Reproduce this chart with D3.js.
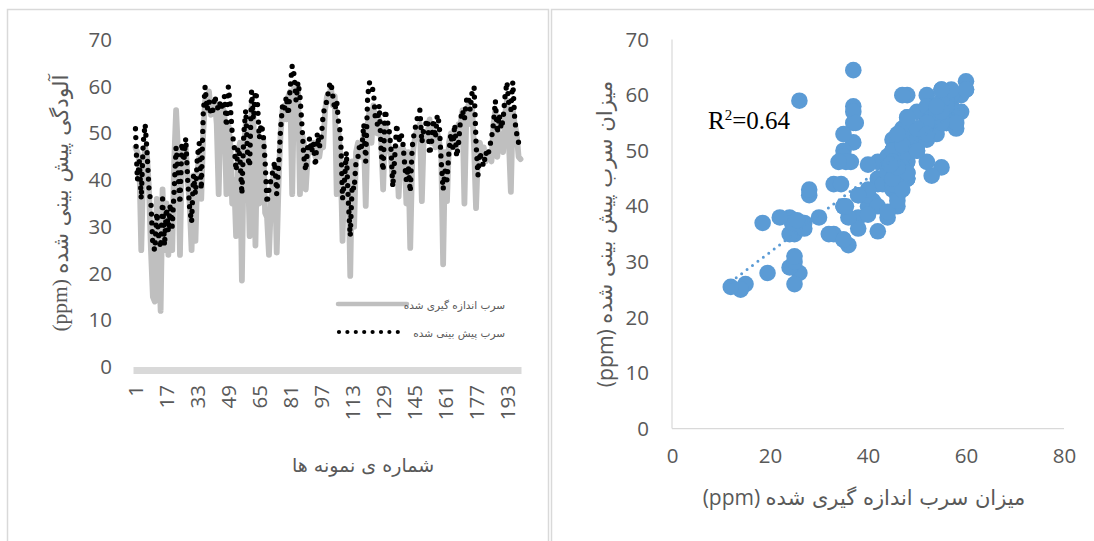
<!DOCTYPE html>
<html>
<head>
<meta charset="utf-8">
<script src="https://cdn.jsdelivr.net/npm/d3@7/dist/d3.min.js"></script>
<style>
  body { margin: 0; background: #fff; }
  svg { display: block; }
</style>
</head>
<body>
<svg id="chart" width="1094" height="541"></svg>
<script>
// Measured lead (ppm) for each sample
const measured = [
  47, 46, 44, 25, 42, 47, 45, 38, 25, 15,
  14, 36, 26, 12, 38, 25, 35, 24, 33, 25,
  44, 55, 46, 24, 46, 42, 47, 40, 35, 25,
  41, 27, 42, 45, 36, 50, 57, 55, 59, 54,
  56, 57, 52, 37, 55, 56, 54, 37, 52, 48,
  35, 40, 28, 46, 48, 18.5, 47, 52, 46, 28,
  56, 54, 26, 50, 35, 45, 49, 33, 32, 24,
  35, 40, 43, 24.5, 40, 50, 55, 56, 53, 58,
  59, 37, 60, 58, 60, 37, 50, 48, 38, 45,
  47, 46, 48, 45, 47, 45, 48, 47, 55, 58,
  57, 60, 56, 58, 37, 50, 45, 27, 42, 44,
  42, 19.5, 44, 30, 46, 48, 45, 46, 50, 34.5,
  52, 55, 48, 56, 52, 50, 53, 48, 38, 52,
  50, 47, 45, 40, 46, 47, 36.5, 45, 47, 46,
  35, 46, 25.5, 44, 48, 50, 51, 52, 35.5, 50,
  49, 50, 53, 48, 51, 47, 50, 48, 46, 22,
  46, 35.5, 48, 50, 47, 50, 47, 52, 52, 55,
  35, 54, 56, 52, 55, 47, 34, 46, 48, 45,
  47, 44, 45, 46, 44, 52, 55, 45, 50, 47,
  46, 54, 57, 48, 37.5, 55, 52, 50, 45, 44.5
];

// Predicted lead (ppm) for the same samples
const predicted = [
  51, 40, 44, 36, 48, 52, 46, 38, 35, 26,
  25, 33, 28, 25.5, 36, 26, 34, 29, 35, 30,
  38, 47, 42, 35, 48, 44, 49, 40, 34, 31,
  41, 37, 45, 48, 38, 54, 60, 55, 57, 54,
  55, 58, 56, 55, 57, 55, 58, 51.5, 60, 56,
  50, 47.5, 42, 47, 45, 37, 50, 55, 45, 43,
  59, 53, 59, 57, 49, 52, 50, 44, 35, 38,
  40, 42, 44, 37, 43, 51, 56, 55, 58, 54,
  60, 64.5, 62.5, 57, 61, 58, 52, 45, 42, 47,
  49, 46, 48, 43, 50, 47, 49, 54, 56, 57,
  60, 61, 58, 55, 57, 52, 50, 36, 40, 46,
  35.5, 28, 39, 38, 44, 45, 48, 47, 52, 44,
  58, 61, 60, 59, 53, 52, 56, 46, 42, 55,
  53, 51, 47, 38.5, 45, 52, 48, 50, 49, 44,
  40, 43, 37.5, 47, 50, 52, 54, 55, 48, 51,
  52, 53, 45.5, 48, 53, 49, 54, 52, 44, 38,
  42, 40, 46, 50, 47, 52, 45, 48, 53, 55,
  53, 57, 58, 55, 59, 60, 48, 41, 46, 44,
  43, 46, 45, 47, 49, 52, 57, 50, 54, 51,
  53, 58, 61, 56, 55, 61, 53, 50, 48, 47.5
];

const sampleTicks = [1, 17, 33, 49, 65, 81, 97, 113, 129, 145, 161, 177, 193];
const seriesYTicks = [0, 10, 20, 30, 40, 50, 60, 70];
const scatterXTicks = [0, 20, 40, 60, 80];
const scatterYTicks = [0, 10, 20, 30, 40, 50, 60, 70];
const legendLabels = ["سرب اندازه گیری شده", "سرب پیش بینی شده"];
const r2Value = "0.64";

const seriesYTitle = "آلودگی پیش بینی شده";
const seriesXTitle = "شماره ی نمونه ها";
const scatterYTitle = "میزان سرب پیش بینی شده";
const scatterXTitle = "میزان سرب اندازه گیری شده";
const unitLabel = "(ppm)";

const svg = d3.select("#chart");
const tickColor = "#595959";
const numFont = "'Open Sans', 'Noto Sans', sans-serif";
const arFont = "'DejaVu Sans', sans-serif";
const tickSize = 20.5;

// panel frames
svg.append("rect").attr("x", 7.5).attr("y", 9.5).attr("width", 541).attr("height", 560)
  .attr("fill", "none").attr("stroke", "#d9d9d9").attr("stroke-width", 1.5);
svg.append("rect").attr("x", 551.5).attr("y", 9.5).attr("width", 560).attr("height", 560)
  .attr("fill", "none").attr("stroke", "#d9d9d9").attr("stroke-width", 1.5);

// ---------- Left: sample series ----------
const idx = d3.range(1, measured.length + 1);
const x = d3.scaleBand().domain(idx).range([134.5, 521.5]);
const cx = i => x(i) + x.bandwidth() / 2;
const y = d3.scaleLinear().domain([0, 70]).range([367, 40]);

const left = svg.append("g");

// category axis band (densely packed category ticks)
left.append("rect")
  .attr("x", x.range()[0] - 1).attr("y", y(0))
  .attr("width", x.range()[1] - x.range()[0] + 1).attr("height", 7)
  .attr("fill", "#d9d9d9");

const yAxisL = left.append("g").attr("transform", "translate(120,0)")
  .call(d3.axisLeft(y).tickValues(seriesYTicks).tickSize(0).tickPadding(8));
yAxisL.select(".domain").remove();
yAxisL.selectAll("text").attr("font-family", numFont).attr("font-size", tickSize).attr("fill", tickColor);

// sample number labels, rotated
left.append("g").selectAll("text").data(sampleTicks).join("text")
  .attr("transform", d => `translate(${cx(d)},385) rotate(-90)`)
  .attr("text-anchor", "end").attr("dominant-baseline", "central")
  .attr("font-family", numFont).attr("font-size", tickSize).attr("fill", tickColor)
  .text(d => d);

// measured: solid grey line
left.append("path").datum(idx)
  .attr("fill", "none").attr("stroke", "#bfbfbf").attr("stroke-width", 5.8)
  .attr("stroke-linejoin", "round").attr("stroke-linecap", "round")
  .attr("d", d3.line().x(i => cx(i)).y(i => y(measured[i - 1])));

// predicted: round-dot line
left.append("path").datum(idx)
  .attr("fill", "none").attr("stroke", "#000").attr("stroke-width", 5.3)
  .attr("stroke-linejoin", "round").attr("stroke-linecap", "round")
  .attr("stroke-dasharray", "0 8.8")
  .attr("d", d3.line().x(i => cx(i)).y(i => y(predicted[i - 1])));

// legend
const lg = left.append("g");
lg.append("line").attr("x1", 338).attr("x2", 407).attr("y1", 304).attr("y2", 304)
  .attr("stroke", "#bfbfbf").attr("stroke-width", 4.5).attr("stroke-linecap", "round");
lg.append("line").attr("x1", 339).attr("x2", 398).attr("y1", 332).attr("y2", 332)
  .attr("stroke", "#000").attr("stroke-width", 4.2).attr("stroke-linecap", "round")
  .attr("stroke-dasharray", "0 8.4");
lg.selectAll("text.lab").data(legendLabels).join("text").attr("class", "lab")
  .attr("x", 505).attr("y", (d, k) => 305 + k * 28)
  .attr("text-anchor", "end").attr("dominant-baseline", "central")
  .attr("font-family", arFont).attr("font-size", 10.5).attr("fill", tickColor)
  .text(d => d);

// axis titles
const lyt = left.append("text")
  .attr("transform", "translate(60,203) rotate(-90)")
  .attr("text-anchor", "middle").attr("dominant-baseline", "central")
  .attr("fill", tickColor).attr("font-size", 21.5);
lyt.append("tspan").attr("font-family", "'Liberation Serif', serif").text(unitLabel + " ");
lyt.append("tspan").attr("font-family", arFont).text(seriesYTitle);

left.append("text").attr("x", 363).attr("y", 472).attr("text-anchor", "middle")
  .attr("font-family", arFont).attr("font-size", 19).attr("fill", tickColor)
  .text(seriesXTitle);

// ---------- Right: measured vs predicted ----------
const sx = d3.scaleLinear().domain([0, 80]).range([672, 1064]);
const sy = d3.scaleLinear().domain([0, 70]).range([428.6, 39.6]);
const right = svg.append("g");

right.append("line").attr("x1", sx(0)).attr("x2", sx(0)).attr("y1", sy(70)).attr("y2", sy(0))
  .attr("stroke", "#d9d9d9").attr("stroke-width", 1.2);
right.append("line").attr("x1", sx(0)).attr("x2", sx(80)).attr("y1", sy(0)).attr("y2", sy(0))
  .attr("stroke", "#d9d9d9").attr("stroke-width", 1.2);

const yAxisR = right.append("g").attr("transform", `translate(${sx(0) - 23},0)`)
  .call(d3.axisLeft(sy).tickValues(scatterYTicks).tickSize(0).tickPadding(0));
yAxisR.select(".domain").remove();
yAxisR.selectAll("text").attr("font-family", numFont).attr("font-size", tickSize).attr("fill", tickColor);

const xAxisR = right.append("g").attr("transform", `translate(0,${sy(0)})`)
  .call(d3.axisBottom(sx).tickValues(scatterXTicks).tickSize(0).tickPadding(20));
xAxisR.select(".domain").remove();
xAxisR.selectAll("text").attr("font-family", numFont).attr("font-size", tickSize).attr("fill", tickColor);

const pts = measured.map((m, k) => [m, predicted[k]]);

// least-squares trend line
const mx = d3.mean(pts, p => p[0]), my = d3.mean(pts, p => p[1]);
const slope = d3.sum(pts, p => (p[0] - mx) * (p[1] - my)) / d3.sum(pts, p => (p[0] - mx) ** 2);
const icpt = my - slope * mx;
const [xmin, xmax] = d3.extent(pts, p => p[0]);

right.append("g").selectAll("circle").data(pts).join("circle")
  .attr("cx", p => sx(p[0])).attr("cy", p => sy(p[1])).attr("r", 8.3)
  .attr("fill", "#5b9bd5");

right.append("line")
  .attr("x1", sx(xmin)).attr("y1", sy(icpt + slope * xmin))
  .attr("x2", sx(xmax)).attr("y2", sy(icpt + slope * xmax))
  .attr("stroke", "#5b9bd5").attr("stroke-width", 3)
  .attr("stroke-linecap", "round").attr("stroke-dasharray", "0 6.8");

const r2 = right.append("text").attr("x", 708).attr("y", 129)
  .attr("font-family", "'Liberation Serif', serif").attr("font-size", 25).attr("fill", "#000");
r2.append("tspan").text("R");
r2.append("tspan").attr("dy", -9).attr("font-size", 15).text("2");
r2.append("tspan").attr("dy", 9).text("=" + r2Value);

const ryt = right.append("text")
  .attr("transform", "translate(604,234) rotate(-90)")
  .attr("text-anchor", "middle").attr("dominant-baseline", "central")
  .attr("fill", tickColor).attr("font-size", 21.2);
ryt.append("tspan").attr("font-family", numFont).text(unitLabel + " ");
ryt.append("tspan").attr("font-family", arFont).text(scatterYTitle);

const rxt = right.append("text").attr("x", 864).attr("y", 505).attr("text-anchor", "middle")
  .attr("fill", tickColor).attr("font-size", 21);
rxt.append("tspan").attr("font-family", numFont).text(unitLabel + " ");
rxt.append("tspan").attr("font-family", arFont).text(scatterXTitle);
</script>
</body>
</html>
